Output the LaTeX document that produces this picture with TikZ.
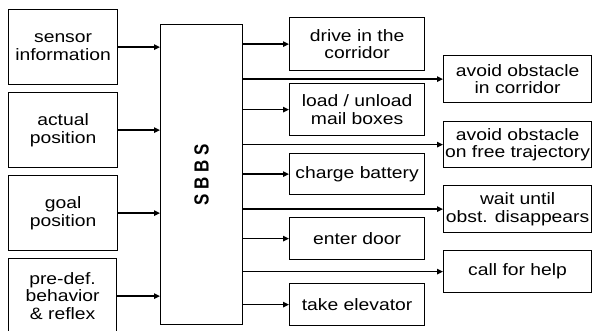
\documentclass[tikz,border=0pt]{standalone}
\usepackage{fontspec}
\setmainfont{Liberation Sans}[FakeStretch=1.17]
\newfontfamily\sbbsfont{Liberation Sans}
\usetikzlibrary{arrows.meta}
\tikzset{
  box/.style={draw, line width=1.2pt, inner sep=0pt, align=center,
    font=\fontsize{16.5}{17.5}\selectfont, anchor=north west},
  arr/.style={line width=1.2pt, -{Triangle[length=6pt,width=5.5pt]}},
}
\begin{document}
\begin{tikzpicture}[x=1pt,y=-1pt]
\useasboundingbox (0,0) rectangle (592,331);
% left inputs
\node[box, minimum width=109pt, minimum height=75pt] (l1) at (8,9) {sensor\\information};
\node[box, minimum width=109pt, minimum height=75pt] (l2) at (8,92) {actual\\position};
\node[box, minimum width=109pt, minimum height=75pt] (l3) at (8,175) {goal\\position};
\node[box, draw=none, outer sep=0pt, minimum width=108pt, minimum height=75pt] (l4) at (8.6,258.6) {pre-def.\\behavior\\\& reflex};
\draw[line width=1.2pt] (l4.south west) -- (l4.north west) -- (l4.north east) -- (l4.south east);
% SBBS
\node[box, minimum width=82pt, minimum height=300pt] (s) at (160,24) {};
\node (st) at (s.center) {\rotatebox{90}{\scalebox{1}[1.2]{\sbbsfont\bfseries\fontsize{17}{17}\selectfont S B B S}}};
% column 1
\node[box, minimum width=135pt, minimum height=53pt] (c1) at (289,17) {drive in the\\corridor};
\node[box, minimum width=135pt, minimum height=52pt] (c2) at (289,83) {load / unload\\mail boxes};
\node[box, minimum width=135pt, minimum height=41pt] (c3) at (289,153) {charge battery};
\node[box, minimum width=135pt, minimum height=42pt] (c4) at (289,217) {enter door};
\node[box, minimum width=135pt, minimum height=42pt] (c5) at (289,283) {take elevator};
% column 2
\node[box, minimum width=148pt, minimum height=47pt] (d1) at (443,55) {avoid obstacle\\in corridor};
\node[box, minimum width=148pt, minimum height=46pt] (d2) at (443,121) {avoid obstacle\\on free trajectory};
\node[box, minimum width=148pt, minimum height=47pt] (d3) at (443,185) {wait until\\obst. disappears};
\node[box, minimum width=148pt, minimum height=42pt] (d4) at (443,250) {call for help};
% arrows in
\foreach \n in {l1,l2,l3} \draw[arr] (\n.east) -- (s.west |- \n.east);
\draw[arr] ([xshift=0.6pt]l4.east) -- (s.west |- l4.east);
% arrows out
\foreach \n in {c1,c2,c3,c4,c5,d1,d2,d3,d4} \draw[arr] (s.east |- \n.west) -- (\n.west);
\end{tikzpicture}
\end{document}
